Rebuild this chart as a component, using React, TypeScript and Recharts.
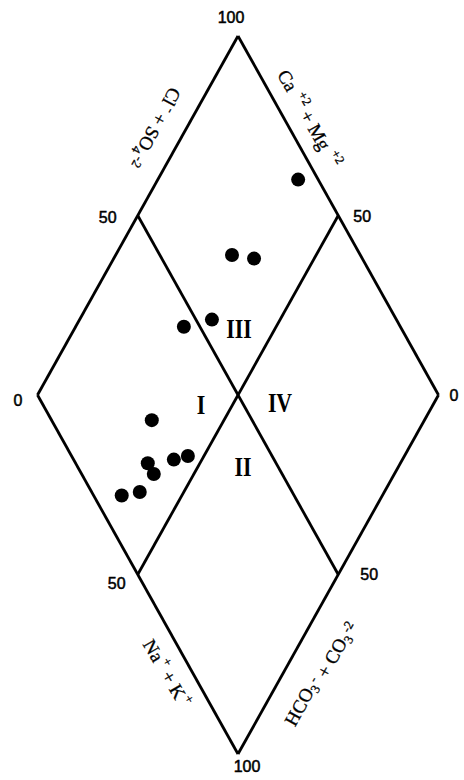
import { ScatterChart, Scatter, XAxis, YAxis, ReferenceLine } from 'recharts'

// Sample compositions, percent of total cations / anions (meq/L)
const caMg = [65, 71, 65, 67, 73, 68, 63, 60, 57, 54, 61, 65]
const clSo4 = [95, 68, 73, 54, 46, 25, 18, 18, 25, 29, 12, 7]

// Scale marks on the diamond: top, right, bottom, left, then the four edge midpoints
const tickLabels = ['100', '0', '100', '0', '50', '50', '50', '50']
const tickCaMg = [100, 0, 0, 100, 100, 50, 0, 50]
const tickClSo4 = [100, 100, 0, 0, 50, 100, 50, 0]

// Hydrochemical facies fields around the centre of the diamond
const regionLabels = ['I', 'II', 'III', 'IV']

// Piper diamond: x runs from Ca+Mg dominated (left) to Cl+SO4 dominated (right)
const toXY = (ca: number, cl: number) => ({ x: (cl - ca) / 2, y: (cl + ca) / 2 })

const samples = caMg.map((ca, i) => toXY(ca, clSo4[i]))
const ticks = tickLabels.map((label, i) => ({ ...toXY(tickCaMg[i], tickClSo4[i]), label, i }))
const regions = regionLabels.map((label, i) => ({ ...toXY(50, 50), label, i }))

const top = toXY(100, 100)
const right = toXY(0, 100)
const bottom = toXY(0, 0)
const left = toXY(100, 0)
const outline = [
  [top, right],
  [right, bottom],
  [bottom, left],
  [left, top],
  [toXY(100, 50), toXY(0, 50)],
  [toXY(50, 100), toXY(50, 0)],
]

// edge titles sit a quarter of the way along each edge
const titles = [
  { ...toXY(100, 75), key: 'anionTop' },
  { ...toXY(75, 100), key: 'cationTop' },
  { ...toXY(25, 0), key: 'cationBottom' },
  { ...toXY(0, 25), key: 'anionBottom' },
]

const tickOffsets = [
  [-7, -13],
  [15.5, 6],
  [9, 18],
  [-19.5, 11],
  [-30, 7.5],
  [24, 6.5],
  [31, 5.5],
  [-21, 14.5],
]

const regionOffsets = [
  [-37, 10],
  [5, 72],
  [1, -66],
  [42, 8],
]

const serif = '"Liberation Serif", "DejaVu Serif", serif'
const sans = '"Liberation Sans", Arial, sans-serif'

const Sup = ({ children }: { children: string }) => (
  <>
    <tspan dx={2} dy={-7} fontSize={13}>
      {children}
    </tspan>
    <tspan dy={7}> </tspan>
  </>
)

const Sub = ({ children }: { children: string }) => (
  <>
    <tspan dy={5} fontSize={13}>
      {children}
    </tspan>
    <tspan dy={-5}></tspan>
  </>
)

const titleStyle: Record<string, { dx: number; dy: number; angle: number; body: JSX.Element }> = {
  anionTop: {
    dx: -33,
    dy: 2,
    angle: 118.5,
    body: (
      <>
        Cl<Sup>-</Sup>+ SO<Sub>4</Sub>
        <Sup>-2</Sup>
      </>
    ),
  },
  cationTop: {
    dx: 21,
    dy: -7,
    angle: 60.5,
    body: (
      <>
        Ca <Sup>+2</Sup>+ Mg <Sup>+2</Sup>
      </>
    ),
  },
  cationBottom: {
    dx: -21,
    dy: 9,
    angle: 59.5,
    body: (
      <>
        Na<Sup>+</Sup>+ K<Sup>+</Sup>
      </>
    ),
  },
  anionBottom: {
    dx: 30,
    dy: 8,
    angle: -61,
    body: (
      <>
        HCO<Sub>3</Sub>
        <Sup>-</Sup>+ CO<Sub>3</Sub>
        <Sup>-2</Sup>
      </>
    ),
  },
}

const SampleDot = (props: any) => <circle cx={props.cx} cy={props.cy} r={7} fill="#000" />

const TickText = (props: any) => {
  const { cx, cy, payload } = props
  const [dx, dy] = tickOffsets[payload.i]
  return (
    <text
      x={cx + dx}
      y={cy + dy}
      textAnchor="middle"
      fontFamily={sans}
      fontSize={16}
      fill="#000"
      stroke="#000"
      strokeWidth={0.5}
    >
      {payload.label}
    </text>
  )
}

// condensed roman numerals for the facies fields
const RegionText = (props: any) => {
  const { cx, cy, payload } = props
  const [dx, dy] = regionOffsets[payload.i]
  return (
    <g transform={`translate(${cx + dx},${cy + dy}) scale(0.78,1)`}>
      <text
        textAnchor="middle"
        dominantBaseline="central"
        fontFamily={serif}
        fontWeight="bold"
        fontSize={28}
        fill="#000"
      >
        {payload.label}
      </text>
    </g>
  )
}

const TitleText = (props: any) => {
  const { cx, cy, payload } = props
  const t = titleStyle[payload.key]
  return (
    <g transform={`translate(${cx + t.dx},${cy + t.dy}) rotate(${t.angle})`}>
      <text
        textAnchor="middle"
        dominantBaseline="central"
        fontFamily={serif}
        fontSize={19}
        fill="#000"
        stroke="#000"
        strokeWidth={0.3}
      >
        {t.body}
      </text>
    </g>
  )
}

export default function App() {
  return (
    <div style={{ position: 'absolute', left: 0, top: 0, width: 464, height: 780, background: '#fff' }}>
      <ScatterChart width={464} height={780} margin={{ top: 36, right: 25.5, bottom: 26, left: 37.5 }}>
        <XAxis type="number" dataKey="x" domain={[-50, 50]} hide />
        <YAxis type="number" dataKey="y" domain={[0, 100]} hide />
        {outline.map(([a, b], i) => (
          <ReferenceLine
            key={i}
            segment={[a, b]}
            stroke="#000"
            strokeWidth={2.8}
            ifOverflow="visible"
          />
        ))}
        <Scatter data={samples} shape={SampleDot} isAnimationActive={false} />
        <Scatter data={ticks} shape={TickText} isAnimationActive={false} />
        <Scatter data={regions} shape={RegionText} isAnimationActive={false} />
        <Scatter data={titles} shape={TitleText} isAnimationActive={false} />
      </ScatterChart>
    </div>
  )
}
